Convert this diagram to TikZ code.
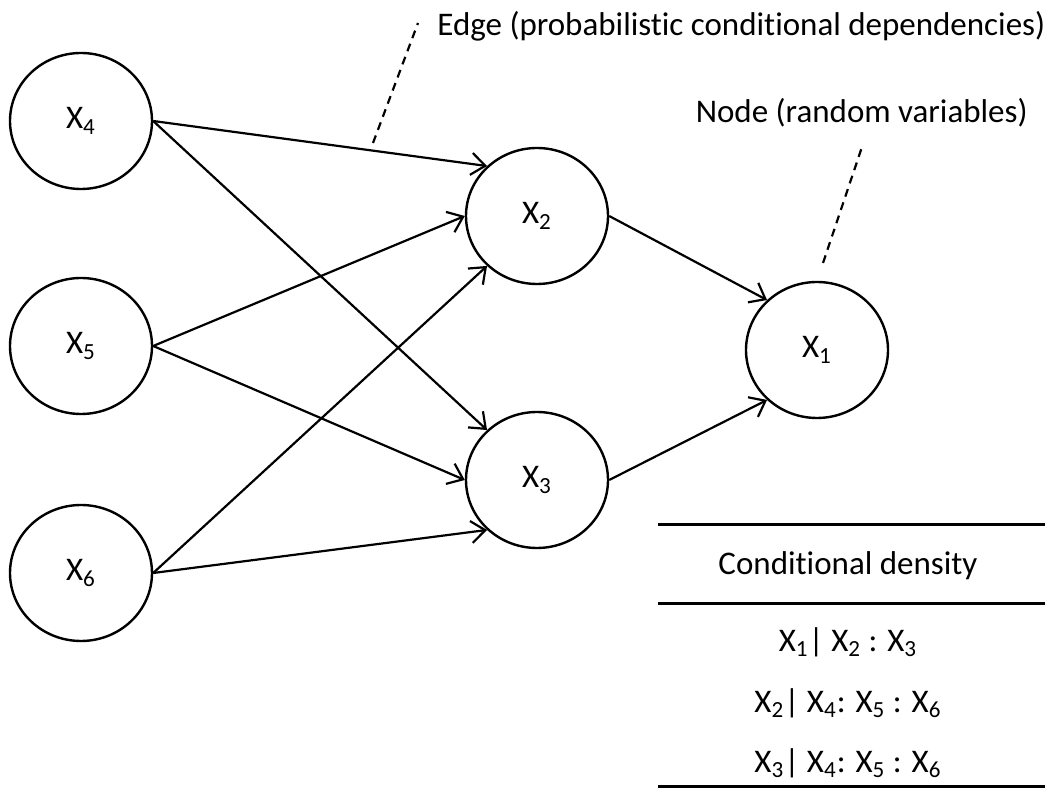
\documentclass[tikz,border=0pt]{standalone}
\usepackage{fontspec}
\setmainfont{Carlito}[Ligatures=CommonOff]
\usetikzlibrary{arrows.meta,shapes.geometric}

\begin{document}
\begin{tikzpicture}[
  x=0.5pt, y=-0.5pt,
  font=\fontsize{16.5}{20}\selectfont,
  var/.style={draw, ellipse, line width=1.2pt, minimum width=71pt, minimum height=68pt, inner sep=0pt},
  arr/.style={-{Straight Barb[length=7pt, width=11pt]}, line width=1.1pt},
  lead/.style={line width=1.1pt, dash pattern=on 4pt off 3pt},
  rule/.style={line width=1.5pt}
]
\useasboundingbox (0,0) rectangle (1045,790);

% Parent nodes
\node[var] (x4) at (81,121) {X\textsubscript{4}};
\node[var] (x5) at (81,346) {X\textsubscript{5}};
\node[var] (x6) at (81,573) {X\textsubscript{6}};

% Middle and child nodes
\node[var] (x2) at (537,216) {X\textsubscript{2}};
\node[var] (x3) at (537,480) {X\textsubscript{3}};
\node[var] (x1) at (817,350) {X\textsubscript{1}};

% Edges
\draw[arr] (x4.east) -- (x2.135);
\draw[arr] (x4.east) -- (x3.135);
\draw[arr] (x5.east) -- (x2.180);
\draw[arr] (x5.east) -- (x3.180);
\draw[arr] (x6.east) -- (x2.225);
\draw[arr] (x6.east) -- (x3.225);
\draw[arr] (x2.east) -- (x1.135);
\draw[arr] (x3.east) -- (x1.225);

% Annotations
\node[anchor=west, inner sep=0pt] (edgelab) at (437,26) {Edge (probabilistic conditional dependencies)};
\node[anchor=east, inner sep=0pt] (nodelab) at (1028,113) {Node (random variables)};
\coordinate (edgept) at (373,143);
\coordinate (edgetop) at (418,23);
\coordinate (nodept) at (823,263);
\coordinate (nodetop) at (863,144);
\draw[lead] (edgept) -- (edgetop);
\draw[lead] (nodept) -- (nodetop);

% Conditional density table
\coordinate (tl) at (658,525);
\coordinate (tr) at (1045,525);
\coordinate (ml) at (658,604);
\coordinate (mr) at (1045,604);
\coordinate (bl) at (658,787);
\coordinate (br) at (1045,787);
\draw[rule] (tl) -- (tr);
\draw[rule] (ml) -- (mr);
\draw[rule] (bl) -- (br);
\node (head) at (848,566) {Conditional density};
\node (row1) at (848,642) {X\textsubscript{1}| X\textsubscript{2} : X\textsubscript{3}};
\node (row2) at (848,703) {X\textsubscript{2}| X\textsubscript{4}: X\textsubscript{5} : X\textsubscript{6}};
\node (row3) at (848,763) {X\textsubscript{3}| X\textsubscript{4}: X\textsubscript{5} : X\textsubscript{6}};

\end{tikzpicture}
\end{document}
